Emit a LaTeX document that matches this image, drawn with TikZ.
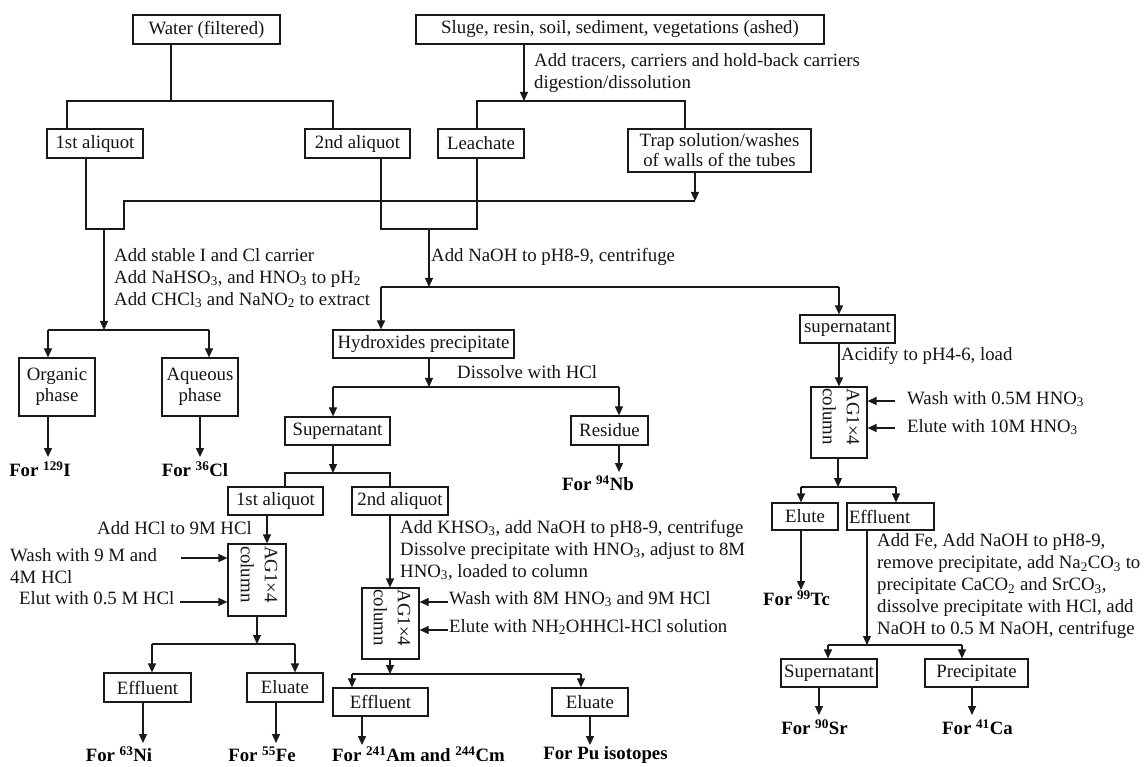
\documentclass[tikz,border=0pt]{standalone}
\usepackage{fontspec}
\setmainfont{Liberation Serif}
\usetikzlibrary{arrows.meta}
\newcommand\figfont{\fontsize{18.8}{22}\selectfont}
\tikzset{
  ln/.style={line width=1.2pt, draw=black!90},
  arr/.style={ln, -{Triangle[length=9pt,width=8pt]}},
  box/.style={draw=black!90, line width=1.2pt, inner sep=1pt, align=center, font=\figfont, text=black!92},
  lab/.style={inner sep=0pt, align=left, font=\figfont, text=black!92},
  forlab/.style={inner sep=0pt, font=\figfont\bfseries, text=black},
  coltext/.style={rotate=-90, align=left, text width=68pt, inner sep=0pt,
    font=\fontsize{18.8}{24}\selectfont, text=black!92},
}
\begin{document}
\begin{tikzpicture}[x=1pt,y=-1pt]
\fill[white] (0,0) rectangle (1144,767);
\useasboundingbox (0,0) rectangle (1144,767);

% ---------- boxes ----------
\node[box, minimum width=147, minimum height=29] (water) at (206.5,29.5) {Water (filtered)};
\node[box, minimum width=408, minimum height=29] (sluge) at (620,29.5) {Sluge, resin, soil, sediment, vegetations (ashed)};
\node[box, minimum width=96, minimum height=29] (aliq1) at (95,143.5) {1st aliquot};
\node[box, minimum width=105, minimum height=29] (aliq2) at (357.5,143.5) {2nd aliquot};
\node[box, minimum width=86, minimum height=29] (leach) at (481,143.5) {Leachate};
\node[box, minimum width=183, minimum height=43] (trap) at (719.5,150.5) {Trap solution/washes\\[-2pt]of walls of the tubes};
\node[box, minimum width=181, minimum height=28] (hydrox) at (423.5,344) {Hydroxides precipitate};
\node[box, minimum width=76, minimum height=58] (organic) at (57,387) {Organic\\[-1pt]phase};
\node[box, minimum width=76, minimum height=58] (aqueous) at (200,387) {Aqueous\\[-1pt]phase};
\node[box, minimum width=105, minimum height=28] (supern) at (337.5,431) {Supernatant};
\node[box, minimum width=77, minimum height=29] (residue) at (609.5,430.5) {Residue};
\node[box, minimum width=95, minimum height=28] (supernB) at (847.5,329) {supernatant};
\node[box, minimum width=95, minimum height=28] (aliq1b) at (275.5,501) {1st aliquot};
\node[box, minimum width=96, minimum height=28] (aliq2b) at (400,501) {2nd aliquot};
\node[box, minimum width=58, minimum height=72] (col1) at (257,580) {};
\node[box, minimum width=57, minimum height=71] (col2) at (390.5,623.5) {};
\node[box, minimum width=56, minimum height=71] (col3) at (839,422.5) {};
\node[coltext] (col1t) at (259,580) {AG1×4\\column};
\node[coltext] (col2t) at (392,623.5) {AG1×4\\column};
\node[coltext] (col3t) at (841,422.5) {AG1×4\\column};
\node[box, minimum width=87, minimum height=29] (eff1) at (147.5,687.5) {Effluent};
\node[box, minimum width=76, minimum height=29] (elu1) at (285,687.5) {Eluate};
\node[box, minimum width=95, minimum height=28] (eff2) at (380.5,702) {Effluent};
\node[box, minimum width=76, minimum height=28] (elu2) at (590,702) {Eluate};
\node[box, minimum width=66, minimum height=27] (elu3) at (805,516.5) {Elute};
\node[box, minimum width=87, minimum height=27, text width=83, align=left] (eff3) at (890.5,516.5) {Effluent};
\node[box, minimum width=96, minimum height=28] (supernC) at (829,673) {Supernatant};
\node[box, minimum width=103, minimum height=28] (precip) at (976.5,673) {Precipitate};

% ---------- end products ----------
\node[forlab] (i129) at (40,469) {For \textsuperscript{129}I};
\node[forlab] (cl36) at (195,469) {For \textsuperscript{36}Cl};
\node[forlab] (nb94) at (598,483) {For \textsuperscript{94}Nb};
\node[forlab] (ni63) at (119,754) {For \textsuperscript{63}Ni};
\node[forlab] (fe55) at (262,754) {For \textsuperscript{55}Fe};
\node[forlab] (amcm) at (418.5,754) {For \textsuperscript{241}Am and \textsuperscript{244}Cm};
\node[forlab] (pu) at (605.5,755) {For Pu isotopes};
\node[forlab] (tc99) at (796.5,598) {For \textsuperscript{99}Tc};
\node[forlab] (sr90) at (814.5,727) {For \textsuperscript{90}Sr};
\node[forlab] (ca41) at (977.5,727) {For \textsuperscript{41}Ca};

% ---------- step labels ----------
\node[lab, anchor=west] (l1) at (534,73.5) {Add tracers, carriers and hold-back carriers\\digestion/dissolution};
\node[lab, anchor=west] (l2) at (114,278) {Add stable I and Cl carrier\\Add NaHSO\textsubscript{3}, and HNO\textsubscript{3} to pH\textsubscript{2}\\Add CHCl\textsubscript{3} and NaNO\textsubscript{2} to extract};
\node[lab, anchor=west] (l3) at (431,257) {Add NaOH to pH8-9, centrifuge};
\node[lab, anchor=west] (l4) at (457,372) {Dissolve with HCl};
\node[lab, anchor=west] (l5) at (841,356) {Acidify to pH4-6, load};
\node[lab, anchor=west] (l6) at (907,399) {Wash with 0.5M HNO\textsubscript{3}};
\node[lab, anchor=west] (l7) at (907,427) {Elute with 10M HNO\textsubscript{3}};
\node[lab, anchor=east] (l8) at (252,528) {Add HCl to 9M HCl};
\node[lab, anchor=west] (l9) at (10,566.5) {Wash with 9 M and\\4M HCl};
\node[lab, anchor=west] (l10) at (19,598) {Elut with 0.5 M HCl};
\node[lab, anchor=west] (l11) at (400,550) {Add KHSO\textsubscript{3}, add NaOH to pH8-9, centrifuge\\Dissolve precipitate with HNO\textsubscript{3}, adjust to 8M\\HNO\textsubscript{3}, loaded to column};
\node[lab, anchor=west] (l12) at (449,599) {Wash with 8M HNO\textsubscript{3} and 9M HCl};
\node[lab, anchor=west] (l13) at (449,627) {Elute with NH\textsubscript{2}OHHCl-HCl solution};
\node[lab, anchor=west] (l14) at (877,586) {Add Fe, Add NaOH to pH8-9,\\remove precipitate, add Na\textsubscript{2}CO\textsubscript{3} to\\precipitate CaCO\textsubscript{2} and SrCO\textsubscript{3},\\dissolve precipitate with HCl, add\\NaOH to 0.5 M NaOH, centrifuge};

% ---------- junction points ----------
\coordinate (w1) at (171,101);
\coordinate (wl) at (67,101);   \coordinate (wr) at (333,101);
\coordinate (s1) at (524,101);
\coordinate (sl) at (477,101);  \coordinate (sr) at (685,101);
\coordinate (t1) at (695,201);  \coordinate (tt) at (124,201);
\coordinate (a1) at (86,229);   \coordinate (tb) at (124,229);
\coordinate (i0) at (104,229);  \coordinate (i1) at (104,330);
\coordinate (ol) at (48,330);   \coordinate (or) at (209,330);
\coordinate (o2) at (48,457);   \coordinate (q2) at (200,457);
\coordinate (b1) at (381,229);  \coordinate (b2) at (477,229);
\coordinate (n0) at (429,229);  \coordinate (n1) at (429,287);
\coordinate (hl) at (381,287);  \coordinate (hr) at (839,287);
\coordinate (d1) at (429,387);
\coordinate (dl) at (333,387);  \coordinate (dr) at (619,387);
\coordinate (r2) at (619,472);
\coordinate (p1) at (333,473);
\coordinate (pl) at (285,473);  \coordinate (pr) at (390,473);
\coordinate (k1) at (267,544);
\coordinate (wa) at (181,558);  \coordinate (wb) at (180,602);
\coordinate (k2) at (257,644);
\coordinate (el) at (152,644);  \coordinate (er) at (295,644);
\coordinate (f1) at (143,743);  \coordinate (f2) at (276,743);
\coordinate (m1) at (390,588);
\coordinate (ma) at (448,602);  \coordinate (mb) at (448,630);
\coordinate (m2) at (390,674);
\coordinate (gl) at (352,674);  \coordinate (gr) at (581,674);
\coordinate (g1) at (362,745);  \coordinate (g2) at (590,745);
\coordinate (ca) at (895,401);  \coordinate (cb) at (895,428);
\coordinate (u1) at (838,487);
\coordinate (ul) at (801,487);  \coordinate (ur) at (896,487);
\coordinate (e1) at (801,590);
\coordinate (v1) at (867,645);
\coordinate (vl) at (828,645);  \coordinate (vr) at (962,645);
\coordinate (x1) at (819,715);  \coordinate (x2) at (972,715);

% ---------- connectors ----------
% water splits into two aliquots
\draw[ln] (w1 |- water.south) -- (w1);
\draw[ln] (wl |- aliq1.north) -- (wl) -- (wr) -- (wr |- aliq2.north);
% solid samples
\draw[arr] (s1 |- sluge.south) -- (s1);
\draw[ln] (sl |- leach.north) -- (sl) -- (sr) -- (sr |- trap.north);
\draw[arr] (t1 |- trap.south) -- (t1);
% iodine / chlorine branch
\draw[ln] (a1 |- aliq1.south) -- (a1) -- (tb) -- (tt) -- (t1);
\draw[arr] (i0) -- (i1);
\draw[ln] (ol) -- (or);
\draw[arr] (ol) -- (ol |- organic.north);
\draw[arr] (or) -- (or |- aqueous.north);
\draw[arr] (o2 |- organic.south) -- (o2);
\draw[arr] (q2 |- aqueous.south) -- (q2);
% hydroxide precipitation
\draw[ln] (b1 |- aliq2.south) -- (b1) -- (b2) -- (b2 |- leach.south);
\draw[arr] (n0) -- (n1);
\draw[ln] (hl) -- (hr);
\draw[arr] (hl) -- (hl |- hydrox.north);
\draw[arr] (hr) -- (hr |- supernB.north);
\draw[arr] (d1 |- hydrox.south) -- (d1);
\draw[ln] (dl) -- (dr);
\draw[arr] (dl) -- (dl |- supern.north);
\draw[arr] (dr) -- (dr |- residue.north);
\draw[arr] (r2 |- residue.south) -- (r2);
% Ni / Fe column
\draw[arr] (p1 |- supern.south) -- (p1);
\draw[ln] (pl |- aliq1b.north) -- (pl) -- (pr) -- (pr |- aliq2b.north);
\draw[arr] (k1 |- aliq1b.south) -- (k1 |- col1.north);
\draw[arr] (wa) -- (wa -| col1.west);
\draw[arr] (wb) -- (wb -| col1.west);
\draw[arr] (k2 |- col1.south) -- (k2);
\draw[ln] (el) -- (er);
\draw[arr] (el) -- (el |- eff1.north);
\draw[arr] (er) -- (er |- elu1.north);
\draw[arr] (f1 |- eff1.south) -- (f1);
\draw[arr] (f2 |- elu1.south) -- (f2);
% actinide column
\draw[arr] (m1 |- aliq2b.south) -- (m1 |- col2.north);
\draw[arr] (ma) -- (ma -| col2.east);
\draw[arr] (mb) -- (mb -| col2.east);
\draw[arr] (m2 |- col2.south) -- (m2);
\draw[ln] (gl) -- (gr);
\draw[arr] (gl) -- (gl |- eff2.north);
\draw[arr] (gr) -- (gr |- elu2.north);
\draw[arr] (g1 |- eff2.south) -- (g1);
\draw[arr] (g2 |- elu2.south) -- (g2);
% Tc / Sr / Ca branch
\draw[arr] (hr |- supernB.south) -- (hr |- col3.north);
\draw[arr] (ca) -- (ca -| col3.east);
\draw[arr] (cb) -- (cb -| col3.east);
\draw[arr] (u1 |- col3.south) -- (u1);
\draw[ln] (ul) -- (ur);
\draw[arr] (ul) -- (ul |- elu3.north);
\draw[arr] (ur) -- (ur |- eff3.north);
\draw[arr] (e1 |- elu3.south) -- (e1);
\draw[arr] (v1 |- eff3.south) -- (v1);
\draw[ln] (vl) -- (vr);
\draw[arr] (vl) -- (vl |- supernC.north);
\draw[arr] (vr) -- (vr |- precip.north);
\draw[arr] (x1 |- supernC.south) -- (x1);
\draw[arr] (x2 |- precip.south) -- (x2);
\end{tikzpicture}
\end{document}
